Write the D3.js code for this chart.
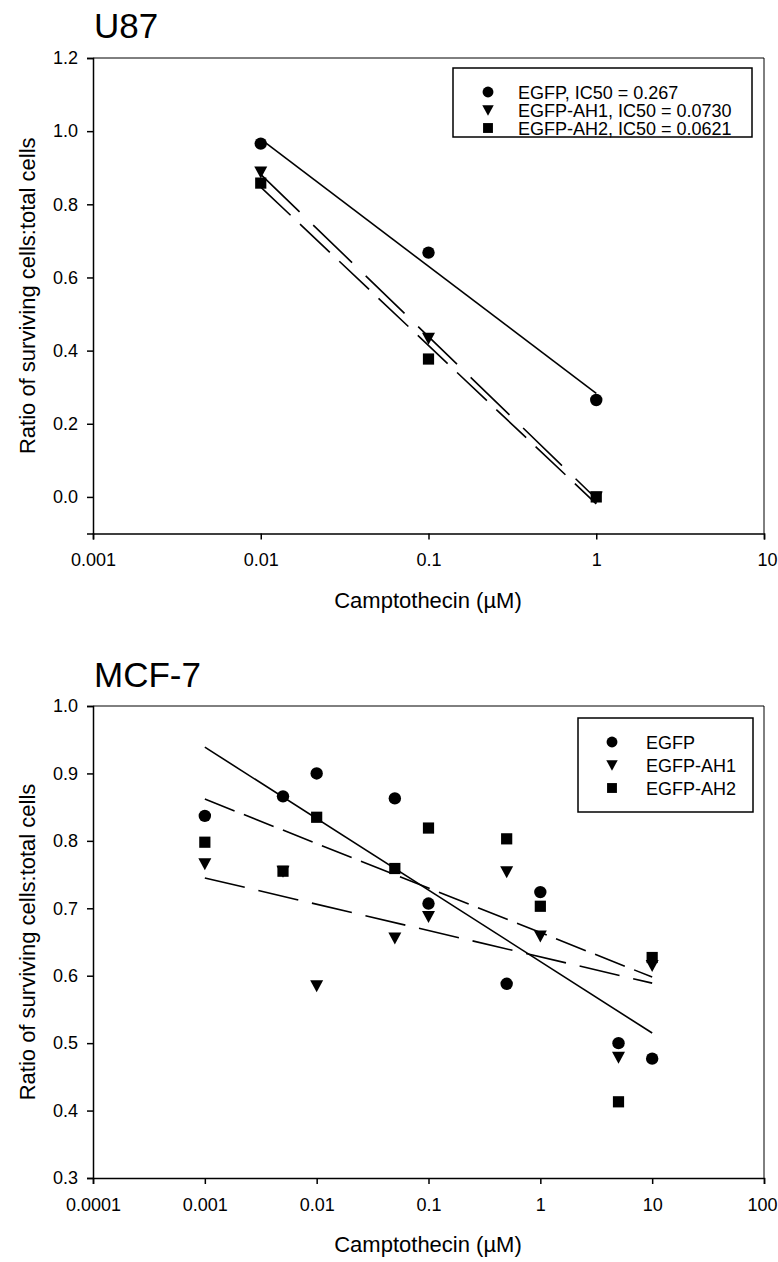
<!DOCTYPE html>
<html>
<head>
<meta charset="utf-8">
<script src="https://cdn.jsdelivr.net/npm/d3@7"></script>
<style>
  body { margin: 0; background: #fff; }
  svg { display: block; font-family: "Liberation Sans", Arial, sans-serif; }
  .axis path, .axis line { stroke: #000; stroke-width: 1.5; }
  .axis text { font-size: 18px; fill: #000; }
  .frame { stroke: #000; stroke-width: 1; fill: none; }
  .fit { fill: none; stroke: #000; stroke-width: 1.6; }
</style>
</head>
<body>
<svg id="chart" width="778" height="1262"></svg>
<script>
// ---- data: U87 panel ----
const u87Series = ['EGFP, IC50 = 0.267', 'EGFP-AH1, IC50 = 0.0730', 'EGFP-AH2, IC50 = 0.0621'];
const u87Dose   = [0.01, 0.1, 1];
const u87EGFP   = [0.966, 0.668, 0.265];
const u87AH1    = [0.888, 0.434, 0.0];
const u87AH2    = [0.858, 0.377, 0.0];
// fitted lines (value at first / last dose)
const u87FitDose = [0.01, 1];
const u87FitEGFP = [0.978, 0.283];
const u87FitAH1  = [0.882, -0.005];
const u87FitAH2  = [0.847, -0.019];
const u87XTicks  = [0.001, 0.01, 0.1, 1, 10];
const u87YTicks  = [0.0, 0.2, 0.4, 0.6, 0.8, 1.0, 1.2];

// ---- data: MCF-7 panel ----
const mcfSeries = ['EGFP', 'EGFP-AH1', 'EGFP-AH2'];
const mcfDose   = [0.001, 0.005, 0.01, 0.05, 0.1, 0.5, 1, 5, 10];
const mcfEGFP   = [0.837, 0.866, 0.900, 0.863, 0.707, 0.588, 0.724, 0.500, 0.477];
const mcfAH1    = [0.766, 0.755, 0.585, 0.656, 0.688, 0.754, 0.659, 0.479, 0.615];
const mcfAH2    = [0.798, 0.755, 0.835, 0.759, 0.819, 0.803, 0.703, 0.413, 0.627];
const mcfFitDose = [0.001, 10];
const mcfFitEGFP = [0.939, 0.515];
const mcfFitAH1  = [0.745, 0.589];
const mcfFitAH2  = [0.862, 0.598];
const mcfXTicks  = [0.0001, 0.001, 0.01, 0.1, 1, 10, 100];
const mcfYTicks  = [0.3, 0.4, 0.5, 0.6, 0.7, 0.8, 0.9, 1.0];

const svg = d3.select('#chart');
const fmtX = d => String(d);

// marker shapes: 0 circle, 1 down-triangle, 2 square
function marker(g, shape, s) {
  if (shape === 0) return g.append('circle').attr('r', 6.2 * s);
  if (shape === 1) return g.append('path').attr('d', `M${-6.5*s},${-5.5*s}L${6.5*s},${-5.5*s}L0,${6.5*s}Z`);
  return g.append('rect').attr('x', -5.6*s).attr('y', -5.6*s).attr('width', 11.2*s).attr('height', 11.2*s);
}

function panel(o) {
  const x = d3.scaleLog().domain(o.xDomain).range([93, 764]);
  const y = d3.scaleLinear().domain(o.yDomain).range([o.bottom, o.top]);
  const g = svg.append('g');

  g.append('text').attr('x', 94).attr('y', o.titleY)
    .attr('font-size', 35).text(o.title);

  // top / right frame
  g.append('line').attr('class', 'frame').attr('x1', 93).attr('x2', 764).attr('y1', o.top).attr('y2', o.top);
  g.append('line').attr('class', 'frame').attr('x1', 764).attr('x2', 764).attr('y1', o.top).attr('y2', o.bottom);

  g.append('g').attr('class', 'axis').attr('transform', `translate(93,0)`)
    .call(d3.axisLeft(y).tickValues(o.yTicks).tickFormat(d3.format('.1f')).tickSizeOuter(0).tickSize(6).tickPadding(9));
  const xa = g.append('g').attr('class', 'axis').attr('transform', `translate(0,${o.bottom})`)
    .call(d3.axisBottom(x).tickValues(o.xTicks).tickFormat(fmtX).tickSizeOuter(0).tickSize(6).tickPadding(14));
  // keep the last label inside the page edge
  xa.selectAll('.tick text').filter(d => x(d) > 760).attr('text-anchor', 'end').attr('dx', '13');

  g.append('text').attr('x', 428).attr('y', o.bottom + 74).attr('text-anchor', 'middle')
    .attr('font-size', 22).text('Camptothecin (\u00b5M)');
  g.append('text').attr('transform', `translate(35,${(o.top + o.bottom) / 2}) rotate(-90)`)
    .attr('text-anchor', 'middle').attr('font-size', 22).text('Ratio of surviving cells:total cells');

  // fitted lines
  const line = d3.line().x(d => x(d[0])).y(d => y(d[1]));
  o.fits.forEach(f => {
    g.append('path').attr('class', 'fit').attr('d', line(d3.zip(o.fitDose, f.v)))
      .attr('stroke-dasharray', f.dash);
  });

  // points
  o.series.forEach((vals, k) => {
    const pg = g.append('g');
    vals.forEach((v, i) => {
      const m = pg.append('g').attr('transform', `translate(${x(o.dose[i])},${y(v)})`);
      marker(m, k, 1).attr('fill', '#000');
    });
  });

  // legend
  const L = o.legend;
  g.append('rect').attr('x', L.x).attr('y', L.y).attr('width', L.w).attr('height', L.h)
    .attr('fill', '#fff').attr('stroke', '#000').attr('stroke-width', 1.5);
  o.names.forEach((name, k) => {
    const cy = L.y + L.first + k * L.step;
    marker(g.append('g').attr('transform', `translate(${L.sx},${cy})`), k, 0.88).attr('fill', '#000');
    g.append('text').attr('x', L.tx).attr('y', cy + 6.5).attr('font-size', 18).text(name);
  });
}

panel({
  title: 'U87', titleY: 38,
  xDomain: [0.001, 10], yDomain: [-0.1, 1.2], top: 58, bottom: 533.5,
  xTicks: u87XTicks, yTicks: u87YTicks,
  dose: u87Dose, series: [u87EGFP, u87AH1, u87AH2], names: u87Series,
  fitDose: u87FitDose,
  fits: [{ v: u87FitEGFP, dash: null }, { v: u87FitAH1, dash: '54,19' }, { v: u87FitAH2, dash: '41,13' }],
  legend: { x: 453, y: 68, w: 299, h: 69, first: 24, step: 18, sx: 488, tx: 518 }
});

panel({
  title: 'MCF-7', titleY: 687,
  xDomain: [0.0001, 100], yDomain: [0.3, 1.0], top: 706, bottom: 1178,
  xTicks: mcfXTicks, yTicks: mcfYTicks,
  dose: mcfDose, series: [mcfEGFP, mcfAH1, mcfAH2], names: mcfSeries,
  fitDose: mcfFitDose,
  fits: [{ v: mcfFitEGFP, dash: null }, { v: mcfFitAH1, dash: '41,14' }, { v: mcfFitAH2, dash: '32,10' }],
  legend: { x: 578, y: 718, w: 175, h: 94, first: 24, step: 23, sx: 612, tx: 646 }
});
</script>
</body>
</html>
